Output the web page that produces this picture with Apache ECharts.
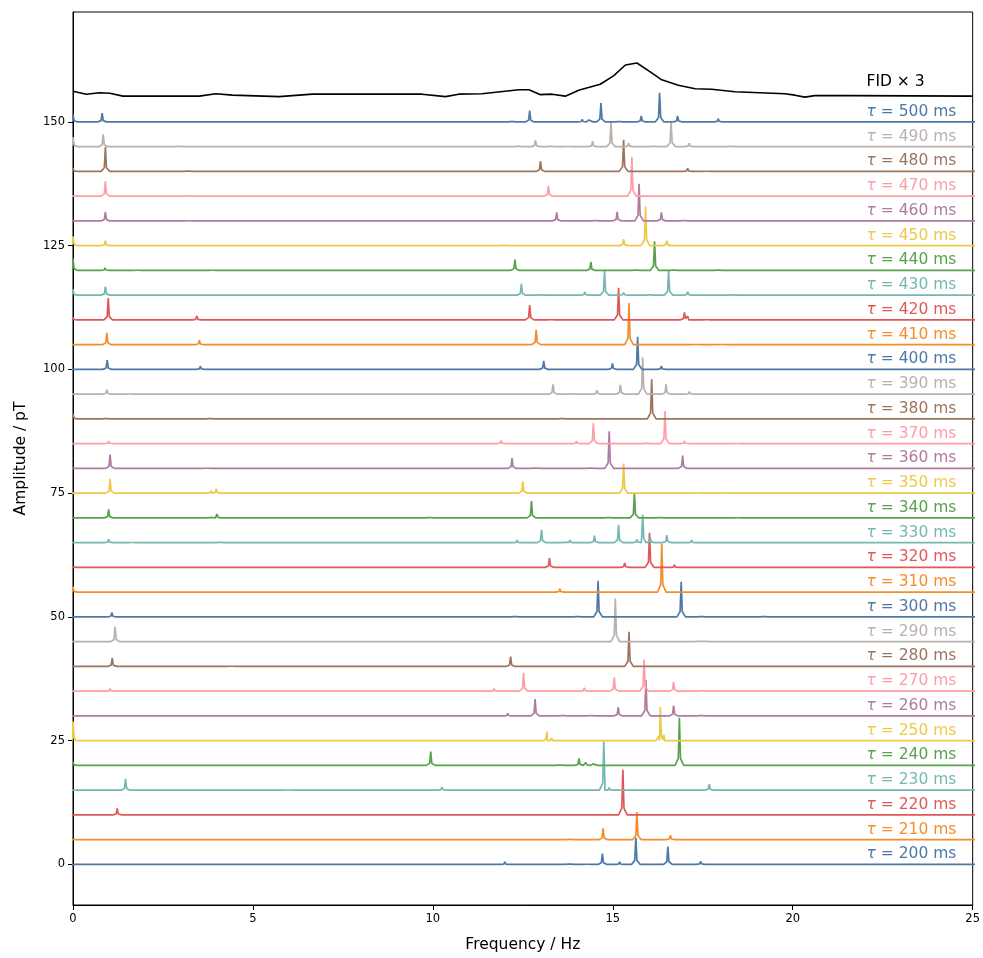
<!DOCTYPE html>
<html><head><meta charset="utf-8">
<script src="https://cdn.jsdelivr.net/npm/echarts@6/dist/echarts.min.js"></script>
<style>html,body{margin:0;padding:0;background:#fff}#c{width:983px;height:958px}</style>
</head><body><div id="c"></div>
<script>
// ---- data (frequency in Hz, amplitude in pT above each trace's own baseline) ----
const tauValues = [200,210,220,230,240,250,260,270,280,290,300,310,320,330,340,350,360,370,380,390,400,410,420,430,440,450,460,470,480,490,500];
const offsetStep = 5;

const peaks_200 = [[12.00,0.5],[13.80,0.4],[14.28,0.2],[14.71,2.2],[15.19,0.5],[15.64,5.4],[16.53,3.6],[17.44,0.6]];
const peaks_210 = [[13.80,0.4],[14.73,2.3],[15.67,5.6],[16.60,0.9]];
const peaks_220 = [[1.23,1.3],[15.28,9.1]];
const peaks_230 = [[1.46,2.3],[5.97,0.2],[10.25,0.6],[14.75,9.8],[14.90,0.5],[17.68,1.2]];
const peaks_240 = [[0,0.7],[9.94,2.8],[13.53,0.4],[14.06,1.4],[14.25,0.6],[14.45,0.3],[16.85,9.6]];
const peaks_250 = [[0,3.9],[0.10,0.4],[13.17,1.9],[13.30,0.5],[16.32,6.8],[16.42,1.2]];
const peaks_260 = [[12.08,0.5],[12.84,3.4],[13.62,0.3],[14.39,0.4],[15.15,1.8],[15.92,7.3],[16.69,2.1],[17.45,0.4]];
const peaks_270 = [[1.03,0.5],[11.70,0.5],[12.52,3.7],[14.21,0.7],[15.04,2.8],[15.87,6.4],[16.69,1.9],[17.47,0.3]];
const peaks_280 = [[1.09,1.7],[4.40,0.2],[12.16,2.0],[15.45,7.0]];
const peaks_290 = [[1.17,3.0],[15.07,8.7],[17.40,0.4],[17.54,0.4]];
const peaks_300 = [[1.08,0.9],[12.28,0.3],[14.02,0.4],[14.59,7.3],[16.90,7.1],[17.47,0.4],[19.21,0.4]];
const peaks_310 = [[0,1.1],[13.53,0.7],[16.36,9.8]];
const peaks_320 = [[0,0.3],[13.24,1.9],[15.33,0.9],[16.02,7.0],[16.71,0.5]];
const peaks_330 = [[0.99,0.7],[1.65,0.2],[4.08,0.4],[12.34,0.5],[13.02,2.6],[13.68,0.3],[13.81,0.5],[14.49,1.4],[15.16,3.6],[15.67,0.6],[15.83,5.7],[16.04,1.0],[16.50,1.5],[17.19,0.5]];
const peaks_340 = [[0.99,1.7],[3.84,0.4],[4.00,0.8],[9.90,0.3],[12.74,3.4],[14.88,0.3],[15.60,5.0],[16.32,0.3],[18.47,0.2]];
const peaks_350 = [[1.03,2.9],[3.84,0.5],[3.98,0.9],[12.50,2.4],[15.30,6.0],[17.33,0.2],[18.12,0.2]];
const peaks_360 = [[1.03,2.8],[3.72,0.2],[12.20,2.1],[12.85,0.3],[14.39,0.3],[14.90,7.5],[16.94,2.6]];
const peaks_370 = [[0.99,0.5],[11.90,0.6],[13.99,0.5],[14.46,4.1],[15.95,0.3],[16.45,6.6],[16.99,0.5],[18.44,0.2]];
const peaks_380 = [[0,1.0],[0.92,0.4],[3.80,0.3],[13.59,0.3],[16.08,8.0]];
const peaks_390 = [[0.94,0.9],[1.58,0.2],[13.34,2.0],[13.91,0.3],[14.56,0.8],[15.21,1.9],[15.83,7.4],[16.48,2.0],[17.13,0.5]];
const peaks_400 = [[0.95,1.9],[3.54,0.6],[13.08,1.7],[14.99,1.2],[15.69,6.6],[16.35,0.7]];
const peaks_410 = [[0.94,2.4],[3.51,0.9],[12.87,3.0],[15.45,8.4],[17.33,0.2],[18.02,0.2]];
const peaks_420 = [[0,0.5],[0.98,4.4],[3.44,0.8],[12.69,3.0],[13.29,0.2],[15.16,6.5],[16.99,1.5],[17.08,0.8],[17.61,0.2]];
const peaks_430 = [[0,1.2],[0.90,1.7],[12.46,2.3],[13.00,0.4],[14.22,0.6],[14.77,4.9],[15.30,0.5],[16.02,0.4],[16.55,4.9],[17.08,0.7],[18.33,0.4]];
const peaks_440 = [[0,2.4],[0.89,0.5],[1.79,0.2],[3.88,0.2],[12.28,2.2],[14.39,1.7],[15.64,0.3],[16.16,5.9],[16.70,0.3],[17.93,0.3]];
const peaks_450 = [[0,1.9],[0.90,1.0],[11.98,0.3],[15.30,1.3],[15.91,7.9],[16.50,1.0]];
const peaks_460 = [[0.90,1.8],[3.22,0.2],[13.44,1.7],[14.51,0.3],[15.12,1.8],[15.73,7.5],[16.35,1.7],[16.97,0.3]];
const peaks_470 = [[0.90,3.0],[3.22,0.3],[13.21,2.1],[15.53,7.9]];
const peaks_480 = [[0,0.6],[0.90,4.9],[3.20,0.4],[12.99,2.1],[15.30,6.4],[17.08,0.6],[17.60,0.2]];
const peaks_490 = [[0,1.9],[0.84,2.5],[2.94,0.3],[12.36,0.3],[12.85,1.3],[13.27,0.4],[13.77,0.2],[14.44,1.1],[14.95,4.9],[15.44,0.7],[16.13,0.3],[16.62,4.9],[17.12,0.7],[18.28,0.3]];
const peaks_500 = [[0,1.5],[0.81,1.75],[12.20,0.3],[12.69,2.3],[14.15,0.5],[14.33,0.4],[14.67,3.8],[15.18,0.3],[15.79,1.2],[16.30,5.9],[16.80,1.2],[17.93,0.6]];

const fidOffset = 155;
const fidFreq = [0,0.37,0.74,1.02,1.39,3.51,3.97,4.43,5.73,6.65,9.70,10.35,10.72,11.36,12.39,12.67,12.99,13.31,13.68,14.05,14.65,15.02,15.35,15.67,16.04,16.36,16.82,17.29,17.75,18.39,19.78,20.06,20.34,20.61,21.63,25.0];
const fidAmp  = [1.2,0.6,0.9,0.8,0.2,0.2,0.7,0.4,0.1,0.6,0.6,0.1,0.6,0.7,1.5,1.5,0.5,0.6,0.2,1.4,2.6,4.3,6.5,6.9,5.1,3.5,2.4,1.7,1.6,1.1,0.7,0.4,0.0,0.3,0.3,0.2];

const yTickValues = [0,25,50,75,100,125,150];
const xTickValues = [0,5,10,15,20,25];

const peakLists = [peaks_200,peaks_210,peaks_220,peaks_230,peaks_240,peaks_250,peaks_260,peaks_270,peaks_280,peaks_290,peaks_300,peaks_310,peaks_320,peaks_330,peaks_340,peaks_350,peaks_360,peaks_370,peaks_380,peaks_390,peaks_400,peaks_410,peaks_420,peaks_430,peaks_440,peaks_450,peaks_460,peaks_470,peaks_480,peaks_490,peaks_500];

// ---- style ----
const palette = ['#4e79a7','#f28e2b','#e15759','#76b7b2','#59a14f','#edc948','#b07aa1','#ff9da7','#9c755f','#bab0ac'];
const FONT = 'DejaVu Sans';
const labelX = 22.05;

// build a spectrum polyline: flat baseline with narrow spikes at the listed peaks
function buildTrace(peaks, offset){
  const pts = [[-1, offset],[26, offset]];
  peaks.forEach(([f,h])=>{
    pts.push([f-0.12, offset]);
    pts.push([f-0.03, offset+0.15*h]);
    pts.push([f, offset+h]);
    pts.push([f+0.03, offset+0.15*h]);
    pts.push([f+0.12, offset]);
  });
  pts.sort((a,b)=>a[0]-b[0]);
  return pts;
}

const series = [];
tauValues.forEach((tau,i)=>{
  const offset = i*offsetStep;
  const color = palette[i % palette.length];
  series.push({
    type:'line', name:'tau'+tau, data: buildTrace(peakLists[i], offset),
    showSymbol:false, symbol:'none', clip:true, z: 2,
    lineStyle:{color, width:1.7}, itemStyle:{color},
    markPoint:{
      symbol:'circle', symbolSize:0, silent:true, animation:false,
      data:[{coord:[labelX, offset+2.05], value:tau}],
      label:{show:true, position:'right', distance:0,
        formatter: p => '{t|τ} = ' + tau + ' ms',
        color, fontFamily:FONT, fontSize:15.5,
        rich:{t:{fontStyle:'italic', color, fontFamily:FONT, fontSize:15.5}}}
    }
  });
});
series.push({
  type:'line', name:'FID', data: fidFreq.map((f,k)=>[f, fidOffset+fidAmp[k]]),
  showSymbol:false, symbol:'none', clip:true, z:3,
  lineStyle:{color:'#000', width:1.6}, itemStyle:{color:'#000'},
  markPoint:{
    symbol:'circle', symbolSize:0, silent:true, animation:false,
    data:[{coord:[labelX, fidOffset+3.0]}],
    label:{show:true, position:'right', distance:0, formatter:'FID × 3', color:'#000', fontFamily:FONT, fontSize:15.5}
  }
});

const chart = echarts.init(document.getElementById('c'), null, {renderer:'canvas'});
chart.setOption({
  animation:false,
  backgroundColor:'#fff',
  grid:{left:73, right:8, top:12, bottom:50, containLabel:false, show:true, borderColor:'#000', borderWidth:1, backgroundColor:'transparent'},
  xAxis:{type:'value', min:0, max:25, interval:5,
    name:'Frequency / Hz', nameLocation:'middle', nameGap:32,
    nameTextStyle:{fontFamily:FONT, fontSize:15.5, color:'#000'},
    axisLine:{show:true, onZero:false, lineStyle:{color:'#000', width:1}},
    axisTick:{show:true, length:5, lineStyle:{color:'#000'}},
    axisLabel:{fontFamily:FONT, fontSize:11.5, color:'#000', margin:8},
    splitLine:{show:false}},
  yAxis:{type:'value', min:-8.2, max:172.2,
    name:'Amplitude / pT', nameLocation:'middle', nameGap:44,
    nameTextStyle:{fontFamily:FONT, fontSize:15.5, color:'#000'},
    axisLine:{show:true, onZero:false, lineStyle:{color:'#000', width:1}},
    axisTick:{show:true, length:5, lineStyle:{color:'#000'}, customValues:yTickValues},
    axisLabel:{fontFamily:FONT, fontSize:11.5, color:'#000', margin:8, customValues:yTickValues},
    splitLine:{show:false}},
  series
});
</script></body></html>
